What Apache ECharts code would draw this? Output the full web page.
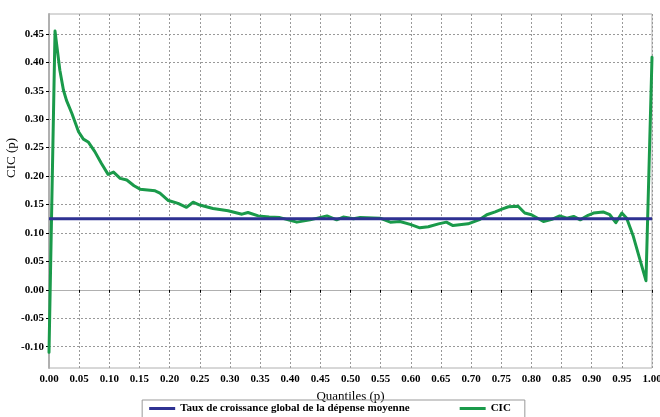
<!DOCTYPE html>
<html>
<head>
<meta charset="utf-8">
<script src="https://cdn.jsdelivr.net/npm/echarts@6/dist/echarts.min.js"></script>
<style>html,body{margin:0;padding:0;background:#fff}#c{width:660px;height:417px}</style>
</head>
<body>
<div id="c"></div>
<script>
var seriesNames = ['Taux de croissance global de la dépense moyenne', 'CIC'];
var xTitle = 'Quantiles (p)';
var yTitle = 'CIC (p)';
var globalRate = 0.125;
var cicP = [0,0.01,0.018,0.024,0.029,0.038,0.049,0.057,0.065,0.076,0.087,0.098,0.107,0.118,0.129,0.141,0.151,0.176,0.184,0.198,0.214,0.228,0.239,0.25,0.272,0.297,0.32,0.33,0.347,0.365,0.383,0.411,0.433,0.461,0.477,0.488,0.505,0.516,0.549,0.566,0.582,0.599,0.615,0.629,0.646,0.659,0.67,0.695,0.715,0.726,0.74,0.751,0.762,0.778,0.789,0.80,0.82,0.834,0.847,0.859,0.87,0.881,0.894,0.903,0.919,0.93,0.94,0.95,0.958,0.969,0.98,0.99,1.0];
var cicV = [-0.11,0.455,0.386,0.351,0.333,0.31,0.278,0.265,0.26,0.243,0.222,0.203,0.207,0.196,0.193,0.183,0.177,0.174,0.17,0.157,0.152,0.145,0.154,0.149,0.143,0.139,0.133,0.136,0.13,0.128,0.127,0.119,0.123,0.130,0.123,0.128,0.125,0.127,0.126,0.119,0.12,0.115,0.109,0.111,0.116,0.119,0.113,0.116,0.124,0.132,0.137,0.142,0.146,0.147,0.135,0.132,0.12,0.124,0.13,0.126,0.129,0.123,0.131,0.135,0.137,0.132,0.118,0.135,0.126,0.094,0.053,0.016,0.409];

var cicData = cicP.map(function(p,i){return [p, cicV[i]];});
var rateData = [[0, globalRate],[1, globalRate]];

var serif = '"Liberation Serif", "DejaVu Serif", serif';
var chart = echarts.init(document.getElementById('c'));
chart.setOption({
  animation: false,
  backgroundColor: '#fff',
  grid: {left: 49, right: 8, top: 14, bottom: 49, containLabel: false, outerBoundsMode: 'none',
    show: true, borderColor: '#b0b0b0', borderWidth: 1},
  xAxis: {
    type: 'value', min: 0, max: 1, interval: 0.05,
    name: xTitle, nameLocation: 'middle', nameGap: 21,
    nameTextStyle: {fontFamily: serif, fontSize: 13, color: '#000'},
    axisLine: {show: true, lineStyle: {color: '#b0b0b0', width: 1}},
    axisTick: {show: true, length: 3, lineStyle: {color: '#000'}},
    axisLabel: {fontFamily: serif, fontWeight: 'bold', fontSize: 11, color: '#000', margin: 6,
      formatter: function(v){return v.toFixed(2);}},
    splitLine: {show: true, lineStyle: {color: '#999', type: [2,2], width: 1}}
  },
  yAxis: {
    type: 'value', min: -0.1375, max: 0.485, splitNumber: 12, minInterval: 0.05, maxInterval: 0.05,
    name: yTitle, nameLocation: 'middle', nameGap: 31, nameRotate: 90, nameMoveOverlap: false,
    nameTextStyle: {fontFamily: serif, fontSize: 13, color: '#000', padding: [0,0,0,66]},
    axisLine: {show: true, lineStyle: {color: '#b0b0b0', width: 2}},
    axisTick: {show: true, length: 3, lineStyle: {color: '#000'}},
    axisLabel: {fontFamily: serif, fontWeight: 'bold', fontSize: 11, color: '#000', margin: 5,
      showMinLabel: false, showMaxLabel: false,
      formatter: function(v){return v.toFixed(2);}},
    splitLine: {show: true, showMinLine: false, showMaxLine: false, lineStyle: {color: '#999', type: [2,2], width: 1}}
  },
  legend: {
    left: 'center', top: 400,
    data: seriesNames,
    icon: 'rect', itemWidth: 26, itemHeight: 3, itemGap: 50,
    borderColor: '#999', borderWidth: 1, padding: [3, 14, 6, 7],
    textStyle: {fontFamily: serif, fontWeight: 'bold', fontSize: 11, color: '#000'}
  },
  series: [
    {name: seriesNames[0], type: 'line', data: rateData, symbol: 'none', z: 3,
      lineStyle: {color: '#2e3192', width: 3}, itemStyle: {color: '#2e3192'}},
    {name: seriesNames[1], type: 'line', data: cicData, symbol: 'none', z: 2,
      lineStyle: {color: '#1a9a4a', width: 3, join: 'round', cap: 'round'}, itemStyle: {color: '#1a9a4a'}}
  ]
});
</script>
</body>
</html>
